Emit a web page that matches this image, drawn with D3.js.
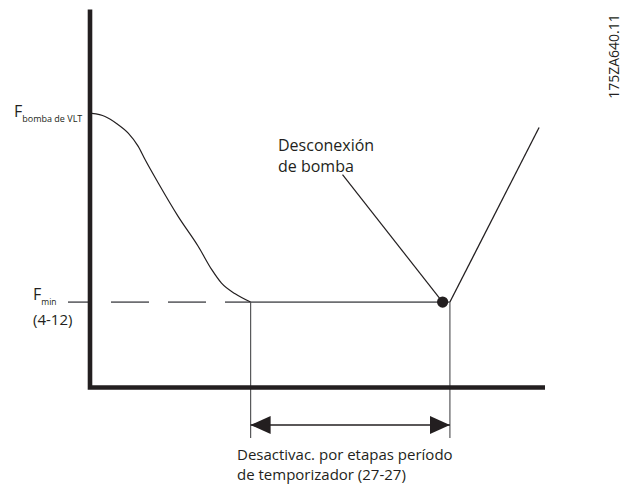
<!DOCTYPE html>
<html lang="es">
<head>
    <meta charset="UTF-8">
    <title>Desconexión de bomba</title>
    <script src="https://d3js.org/d3.v7.min.js"></script>
    <style>
        body { margin: 0; background: #fff; }
        svg { display: block; }
        text { font-family: "Open Sans", "Noto Sans", sans-serif; fill: #231f20; }
    </style>
</head>
<body>
    <svg></svg>
    <script>
        // schematic units: time 0..100 on x, frequency 0..100 on y
        const fBomba = 72.4;
        const fMin = 22.6;
        const rampDown = [
            [0.4, 72.5], [3.3, 71.7], [5.9, 69.8], [8.4, 67.3], [10.6, 63.8],
            [12.1, 60.3], [15.0, 54.1], [19.4, 45.2], [23.8, 37.3], [26.8, 31.1],
            [28.9, 27.6], [31.9, 24.8], [35.3, 22.6]
        ];
        const timerStart = 35.3, timerEnd = 79.1;
        const stopPoint = [77.5, 22.6];
        const rampUp = [[79.1, 22.6], [98.7, 68.8]];
        const leaderEnd = [55.5, 56.3];

        const width = 629, height = 484;
        const svg = d3.select("svg").attr("width", width).attr("height", height);

        const x = d3.scaleLinear().domain([0, 100]).range([90, 545]);
        const y = d3.scaleLinear().domain([0, 100]).range([387.5, 9.5]);

        const ink = "#231f20", grey = "#6d6e71";

        svg.append("defs").selectAll("marker")
            .data(["start", "end"])
            .join("marker")
            .attr("id", d => "arrow-" + d)
            .attr("viewBox", "0 0 20 18")
            .attr("refX", d => d == "end" ? 20 : 0)
            .attr("refY", 9)
            .attr("markerWidth", 20)
            .attr("markerHeight", 18)
            .attr("markerUnits", "userSpaceOnUse")
            .attr("orient", "auto")
            .append("path")
            .attr("d", d => d == "end" ? "M0,0L20,9L0,18Z" : "M20,0L0,9L20,18Z")
            .attr("fill", ink);

        // Fmin reference: dashed before the timer, solid during it
        svg.append("line")
            .attr("x1", 68).attr("x2", x(timerStart))
            .attr("y1", y(fMin)).attr("y2", y(fMin))
            .attr("stroke", grey).attr("stroke-width", 1.8)
            .attr("stroke-dasharray", "38,19").attr("stroke-dashoffset", 14);
        svg.append("line")
            .attr("x1", x(timerStart)).attr("x2", x(timerEnd))
            .attr("y1", y(fMin)).attr("y2", y(fMin))
            .attr("stroke", grey).attr("stroke-width", 1.8);

        // timer limits
        svg.selectAll(".limit")
            .data([timerStart, timerEnd])
            .join("line")
            .attr("class", "limit")
            .attr("x1", d => x(d)).attr("x2", d => x(d))
            .attr("y1", y(fMin)).attr("y2", 438)
            .attr("stroke", "#58595b").attr("stroke-width", 1.2);

        svg.append("line")
            .attr("x1", x(timerStart)).attr("x2", x(timerEnd))
            .attr("y1", 425).attr("y2", 425)
            .attr("stroke", ink).attr("stroke-width", 1.5)
            .attr("marker-start", "url(#arrow-start)")
            .attr("marker-end", "url(#arrow-end)");

        // axes
        svg.append("path")
            .attr("d", `M${x(0)},${y(100)}V${y(0)}H${x(100)}`)
            .attr("fill", "none").attr("stroke", ink).attr("stroke-width", 4.6);

        const line = d3.line().x(d => x(d[0])).y(d => y(d[1]));

        svg.append("path")
            .attr("d", line.curve(d3.curveMonotoneX)(rampDown))
            .attr("fill", "none").attr("stroke", ink).attr("stroke-width", 1.2);

        svg.append("path")
            .attr("d", d3.line().x(d => x(d[0])).y(d => y(d[1]))(rampUp))
            .attr("fill", "none").attr("stroke", ink).attr("stroke-width", 1.3);

        svg.append("line")
            .attr("x1", x(leaderEnd[0])).attr("y1", y(leaderEnd[1]))
            .attr("x2", x(stopPoint[0])).attr("y2", y(stopPoint[1]))
            .attr("stroke", ink).attr("stroke-width", 1.2);

        svg.append("circle")
            .attr("cx", x(stopPoint[0])).attr("cy", y(stopPoint[1]))
            .attr("r", 5.6).attr("fill", ink);

        // labels
        const fb = svg.append("text").attr("x", 14).attr("y", y(fBomba) + 3).style("font-size", "16px");
        fb.append("tspan").text("F");
        fb.append("tspan").attr("dy", 5).style("font-size", "9px").text("bomba de VLT");

        const fm = svg.append("text").attr("x", 33).attr("y", y(fMin) - 2).style("font-size", "16px");
        fm.append("tspan").text("F");
        fm.append("tspan").attr("dy", 4.5).style("font-size", "8.5px").text("min");
        svg.append("text").attr("x", 33).attr("y", y(fMin) + 22.5)
            .style("font-size", "15px").text("(4-12)");

        svg.selectAll(".stop-label")
            .data(["Desconexión", "de bomba"])
            .join("text")
            .attr("class", "stop-label")
            .attr("x", 278).attr("y", (d, i) => 151 + i * 21)
            .style("font-size", "16px")
            .text(d => d);

        svg.selectAll(".timer-label")
            .data(["Desactivac. por etapas período", "de temporizador (27-27)"])
            .join("text")
            .attr("class", "timer-label")
            .attr("x", 237).attr("y", (d, i) => 460 + i * 20)
            .style("font-size", "15px")
            .text(d => d);

        svg.append("text")
            .attr("transform", "translate(619,56.5) rotate(-90)")
            .attr("text-anchor", "middle")
            .style("font-size", "14px")
            .text("175ZA640.11");
    </script>
</body>
</html>
